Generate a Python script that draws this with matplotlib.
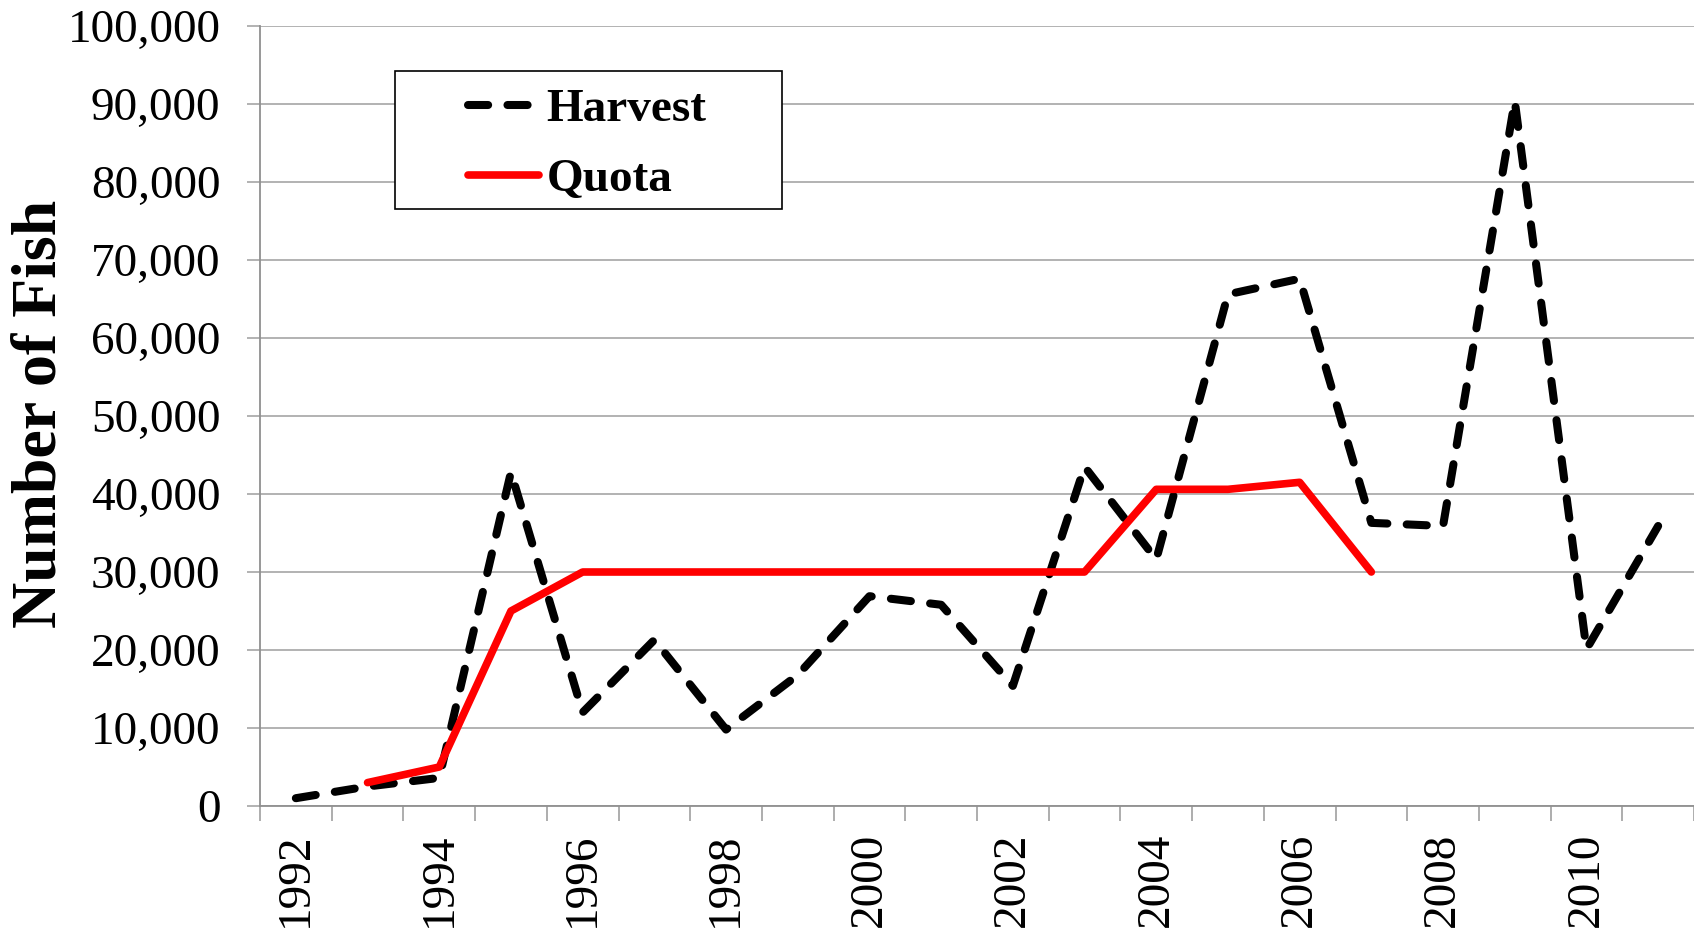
import matplotlib
matplotlib.use("Agg")
import matplotlib.pyplot as plt
from matplotlib.patches import Rectangle
from matplotlib.ticker import FuncFormatter

years = list(range(1992, 2012))
harvest = [1000, 2500, 3600, 42800, 12000, 21300, 9800, 16800, 26900, 25800,
           15400, 43500, 31600, 65600, 67600, 36300, 35900, 90400, 20100, 35900]
quota_years = list(range(1993, 2008))
quota = [3000, 5000, 25000, 30000, 30000, 30000, 30000, 30000, 30000, 30000,
         30000, 40600, 40600, 41500, 30000]
year_labels = [str(y) if y % 2 == 0 else "" for y in years]

plt.rcParams['font.family'] = ['Liberation Serif', 'DejaVu Serif']

fig = plt.figure(figsize=(16.94, 9.32), dpi=100)
ax = fig.add_axes([260/1694, 1-806/932, 1-260/1694, (806-26)/932])

xh = [years.index(y) for y in years]
xq = [years.index(y) for y in quota_years]

ax.plot(xh, harvest, color='black', lw=5.8, linestyle=(0, (2.5, 2.4)),
        dash_capstyle='round', solid_joinstyle='round', label='Harvest', zorder=3)
ax.plot(xq, quota, color='#ff0000', lw=5.5, solid_capstyle='round',
        solid_joinstyle='round', label='Quota', zorder=4)

ax.set_xlim(-0.5, len(years)-0.5)
ax.set_ylim(0, 100000)
ax.set_yticks(range(0, 100001, 10000))
ax.yaxis.set_major_formatter(FuncFormatter(lambda v, p: f"{int(v):,}"))
ax.grid(axis='y', color='#a6a6a6', lw=1.2, zorder=0)
ax.set_axisbelow(True)

ax.set_xticks(range(len(years)))
ax.set_xticklabels(year_labels, rotation=90, fontsize=34)
ax.set_xticks([i - 0.5 for i in range(len(years)+1)], minor=True)
ax.tick_params(axis='x', which='major', length=0, pad=19)
ax.tick_params(axis='x', which='minor', length=11, width=1.2, color='#a0a0a0')
ax.tick_params(axis='y', length=9.5, width=1.2, color='#a6a6a6', pad=19, labelsize=34)

for s in ['top', 'right']:
    ax.spines[s].set_visible(False)
for s in ['left', 'bottom']:
    ax.spines[s].set_color('#909090')
    ax.spines[s].set_linewidth(1.3)

fig.text(41/1694, 1-414/932, 'Number of Fish', rotation=90, ha='center', va='center',
         fontsize=46, fontweight='bold')

# legend box
bx0, by0, bx1, by1 = 395, 71, 782, 209
ax.add_patch(Rectangle(((bx0-260)/1434, (806-by1)/780), (bx1-bx0)/1434, (by1-by0)/780,
                       transform=ax.transAxes, facecolor='white', edgecolor='black',
                       lw=1.2, zorder=5))
leg = ax.legend(loc='upper left', bbox_to_anchor=((468-260)/1434, (806-88)/780),
                frameon=False, borderpad=0, borderaxespad=0, handlelength=1.5,
                handletextpad=0.16, labelspacing=0.58,
                prop={'family': 'Liberation Serif', 'weight': 'bold', 'size': 34})
leg.set_zorder(6)

fig.savefig('out.png', dpi=100)
